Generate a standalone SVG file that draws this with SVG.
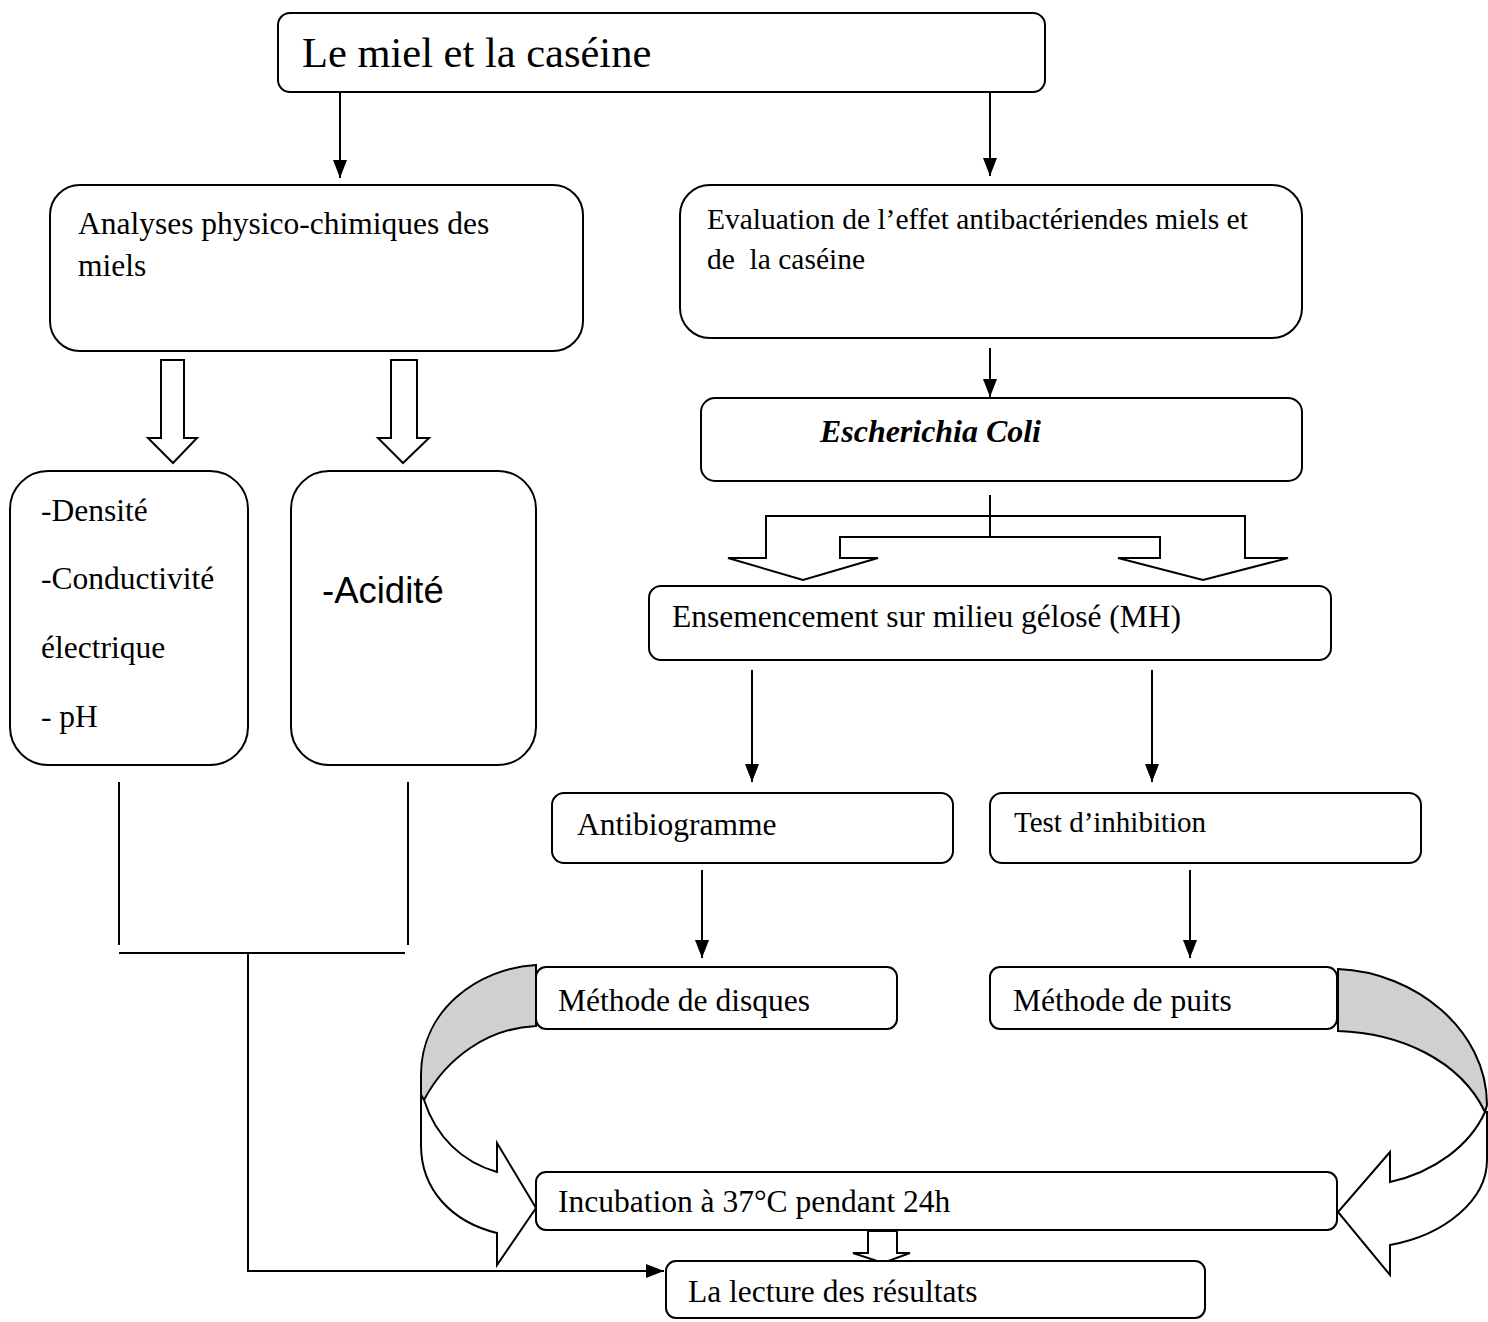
<svg xmlns="http://www.w3.org/2000/svg" width="1488" height="1322" viewBox="0 0 1488 1322">
<style>
.box{fill:#fff;stroke:#000;stroke-width:2}
.t{font-family:"Liberation Serif","Times New Roman",serif;font-size:31.5px;fill:#000}
.s{font-size:29.5px}
.ln{stroke:#000;stroke-width:2;fill:none}
.hol{fill:#fff;stroke:#000;stroke-width:2;stroke-linejoin:miter}
.gray{fill:#d0d0d0;stroke:#000;stroke-width:2}
</style>
<defs>
<marker id="ah" viewBox="0 0 18 14" refX="18" refY="7" markerWidth="18" markerHeight="14" markerUnits="userSpaceOnUse" orient="auto">
<path d="M0,0 L18,7 L0,14 Z" fill="#000"/>
</marker>
</defs>
<rect width="1488" height="1322" fill="#fff"/>
<g id="connectors">
<path class="ln" d="M340,92 V178" marker-end="url(#ah)"/>
<path class="ln" d="M990,92 V176" marker-end="url(#ah)"/>
<path class="ln" d="M990,348 V397" marker-end="url(#ah)"/>
<path class="ln" d="M752,670 V782" marker-end="url(#ah)"/>
<path class="ln" d="M1152,670 V782" marker-end="url(#ah)"/>
<path class="ln" d="M702,870 V958" marker-end="url(#ah)"/>
<path class="ln" d="M1190,870 V958" marker-end="url(#ah)"/>
<path class="ln" d="M119,782 V945 M408,782 V945 M119,953 H405"/>
<path class="ln" d="M248,953 V1271 H664" marker-end="url(#ah)"/>
<polygon class="hol" points="161,360 184,360 184,438 197,438 173,463 148,438 161,438"/>
<polygon class="hol" points="391,360 417,360 417,438 429,438 403,463 378,438 391,438"/>
<path class="hol" d="M766,558 V516 H1245 V558 H1288 L1203,580 L1118,558 H1160 V537 H840 V558 H878 L803,580 L728,558 Z"/>
<path class="ln" d="M990,495 V537"/>
<polygon class="hol" points="868,1231 897,1231 897,1253 910,1253 883,1263 853,1253 868,1253"/>
<path class="gray" d="M536,965 C478,968 421,1010 421,1075 L421,1095 L424,1100 C446,1058 488,1028 536,1026 Z"/>
<path class="hol" d="M424,1100 C436,1137 462,1162 497,1172 L497,1143 L536,1208 L497,1265 L497,1233 C452,1222 421,1190 421,1145 L421,1095 Z"/>
<path class="gray" d="M1338,969 C1415,972 1487,1030 1487,1105 L1485,1112 C1460,1060 1400,1033 1338,1031 Z"/>
<path class="hol" d="M1485,1112 C1470,1145 1435,1172 1390,1182 L1390,1152 L1338,1212 L1390,1275 L1390,1245 C1445,1235 1487,1200 1487,1160 L1487,1112 Z"/>
</g>
<g id="n-top"><rect class="box" x="278" y="13" width="767" height="79" rx="12"/><text class="t" x="302" y="67" style="font-size:42.5px">Le miel et la caséine</text></g>
<g id="n-analyses"><rect class="box" x="50" y="185" width="533" height="166" rx="30"/><text class="t" x="78" y="234">Analyses physico-chimiques des</text><text class="t" x="78" y="276">miels</text></g>
<g id="n-eval"><rect class="box" x="680" y="185" width="622" height="153" rx="30"/><text class="t s" x="707" y="229">Evaluation de l’effet antibactériendes miels et</text><text class="t s" x="707" y="269" xml:space="preserve">de  la caséine</text></g>
<g id="n-densite"><rect class="box" x="10" y="471" width="238" height="294" rx="38"/><text class="t" x="41" y="521">-Densité</text><text class="t" x="41" y="589">-Conductivité</text><text class="t" x="41" y="658">électrique</text><text class="t" x="41" y="727">- pH</text></g>
<g id="n-acidite"><rect class="box" x="291" y="471" width="245" height="294" rx="38"/><text x="322" y="603" style="font-family:'Liberation Sans',Arial,sans-serif;font-size:36.5px">-Acidité</text></g>
<g id="n-ecoli"><rect class="box" x="701" y="398" width="601" height="83" rx="14"/><text class="t" x="820" y="442" textLength="221" lengthAdjust="spacingAndGlyphs" style="font-weight:bold;font-style:italic;font-size:31px">Escherichia Coli</text></g>
<g id="n-ensem"><rect class="box" x="649" y="586" width="682" height="74" rx="12"/><text class="t" x="672" y="627">Ensemencement sur milieu gélosé (MH)</text></g>
<g id="n-antibio"><rect class="box" x="552" y="793" width="401" height="70" rx="12"/><text class="t" x="577" y="835">Antibiogramme</text></g>
<g id="n-test"><rect class="box" x="990" y="793" width="431" height="70" rx="12"/><text class="t" x="1014" y="832" style="font-size:29px">Test d’inhibition</text></g>
<g id="n-disques"><rect class="box" x="536" y="967" width="361" height="62" rx="10"/><text class="t" x="558" y="1011">Méthode de disques</text></g>
<g id="n-puits"><rect class="box" x="990" y="967" width="347" height="62" rx="10"/><text class="t" x="1013" y="1011">Méthode de puits</text></g>
<g id="n-incub"><rect class="box" x="536" y="1172" width="801" height="58" rx="10"/><text class="t" x="558" y="1212">Incubation à 37°C pendant 24h</text></g>
<g id="n-lecture"><rect class="box" x="666" y="1261" width="539" height="57" rx="10"/><text class="t" x="688" y="1302">La lecture des résultats</text></g>
</svg>
